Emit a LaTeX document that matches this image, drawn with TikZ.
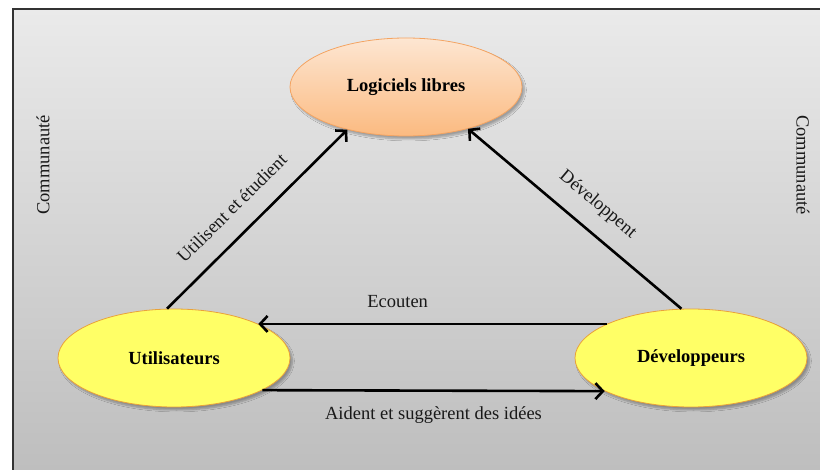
\documentclass[tikz,border=0pt]{standalone}
\usepackage{fontspec}
\setmainfont{Liberation Serif}
\usetikzlibrary{shapes.geometric,arrows.meta,shadows.blur}
\definecolor{peachtop}{HTML}{FDE6D2}
\definecolor{peachbot}{HTML}{FBBA80}
\definecolor{peachline}{HTML}{F4A462}
\definecolor{sunfill}{HTML}{FFFF66}
\definecolor{sunline}{HTML}{E9A23B}
\definecolor{paneltop}{HTML}{EAEAEA}
\definecolor{panelbot}{HTML}{BDBDBD}
\begin{document}
\begin{tikzpicture}[x=1pt,y=-1pt,
  blob/.style={ellipse, minimum width=232pt, minimum height=98pt, inner sep=0pt,
    line width=0.8pt, font=\fontsize{18.5}{22}\selectfont\bfseries,
    blur shadow={shadow xshift=2.5pt, shadow yshift=-3pt, shadow opacity=30, shadow blur steps=6}},
  soft/.style={blob, draw=peachline, top color=peachtop, bottom color=peachbot},
  sunny/.style={blob, draw=sunline, fill=sunfill},
  conn/.style={draw=black, line width=2.6pt, -{Straight Barb[length=7.5pt,width=16pt]}},
  lbl/.style={font=\fontsize{18.5}{22}\selectfont, text=black!90, inner sep=0pt},
  side/.style={font=\fontsize{18.5}{22}\selectfont, text=black!90, inner sep=0pt}
]
\useasboundingbox (0,0) rectangle (820,470);
\fill[white] (0,0) rectangle (820,470);

% panel with vertical gradient
\shade[top color=paneltop, bottom color=panelbot] (13,9) rectangle (830,480);
\draw[black!80, line width=1.5pt] (13,480) -- (13,9) -- (830,9);

% side captions
\node[side, rotate=90] (cl) at (43,165) {Communauté};
\node[side, rotate=-90] (cr) at (803,165) {Communauté};

% the three actors
\node[soft] (logi) at (406,87) {Logiciels libres};
\node[sunny] (util) at (174,358) {Utilisateurs};
\node[sunny] (dev) at (691,358) {Développeurs};

% relations
\draw[conn] (util.98) -- node[lbl, sloped, above=18pt, pos=0.46] {Utilisent et étudient} (logi.216);
\draw[conn] (dev.101) -- node[lbl, sloped, above=16pt, pos=0.47] {Développent} (logi.326);
\draw[conn] (dev.158) -- node[lbl, above=15pt, pos=0.6] (ec) {Ecouten} (util.22);
\draw[conn] (util.340) -- node[lbl, below=15pt, pos=0.5] (ai) {Aident et suggèrent des idées} (dev.201);
\end{tikzpicture}
\end{document}
